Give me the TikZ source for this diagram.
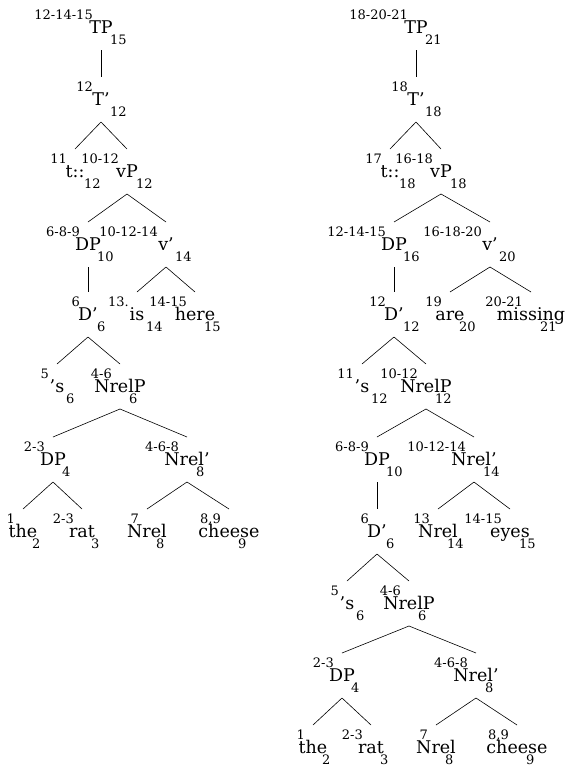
\documentclass[tikz,border=0pt]{standalone}
\usepackage{fontspec}
\setmainfont{DejaVu Serif}
\begin{document}
\begin{tikzpicture}[x=1pt,y=1pt,
  wd/.style={inner sep=0pt,anchor=base,font=\fontsize{17.5}{20}\selectfont},
  sm/.style={inner sep=0pt,font=\fontsize{13}{15}\selectfont},
  edge/.style={line width=0.6pt}]
\useasboundingbox (0,0) rectangle (568,-769);
\newcommand\tnode[6]{%
  \node[wd] (#1) at (#2,-#3) {#5};
  \node[sm,anchor=base east] (#1-sup) at (#2-8,14-#3) {#4};
  \node[sm,anchor=base west] (#1-sub) at (#2+9,-#3-11) {#6};
  \coordinate (#1-t) at (#2,28-#3);
  \coordinate (#1-b) at (#2,-#3-17);}
\newcommand\tedge[2]{\draw[edge] (#1-b) -- (#2-t);}
% left tree
\tnode{aTP}{101}{33}{12-14-15}{TP}{15}
\tnode{aTb}{101}{105}{12}{T'}{12}
\tnode{at}{75}{177}{11}{t::}{12}
\tnode{avP}{127}{177}{10-12}{vP}{12}
\tnode{aDP}{88}{250}{6-8-9}{DP}{10}
\tnode{avb}{166}{250}{10-12-14}{v'}{14}
\tnode{aDb}{88}{320}{6}{D'}{6}
\tnode{ais}{137}{320}{13.}{is}{14}
\tnode{ahere}{195}{320}{14-15}{here}{15}
\tnode{as}{57}{392}{5}{'s}{6}
\tnode{aNP}{120}{392}{4-6}{NrelP}{6}
\tnode{aDPb}{53}{465}{2-3}{DP}{4}
\tnode{aNb}{187}{465}{4-6-8}{Nrel'}{8}
\tnode{athe}{23}{537}{1}{the}{2}
\tnode{arat}{82}{537}{2-3}{rat}{3}
\tnode{aNrel}{147}{537}{7}{Nrel}{8}
\tnode{ache}{229}{537}{8,9}{cheese}{9}
\tedge{aTP}{aTb}
\tedge{aTb}{at}\tedge{aTb}{avP}
\tedge{avP}{aDP}\tedge{avP}{avb}
\tedge{aDP}{aDb}
\tedge{avb}{ais}\tedge{avb}{ahere}
\tedge{aDb}{as}\tedge{aDb}{aNP}
\tedge{aNP}{aDPb}\tedge{aNP}{aNb}
\tedge{aDPb}{athe}\tedge{aDPb}{arat}
\tedge{aNb}{aNrel}\tedge{aNb}{ache}
% right tree
\tnode{bTP}{416}{33}{18-20-21}{TP}{21}
\tnode{bTb}{416}{105}{18}{T'}{18}
\tnode{bt}{390}{177}{17}{t::}{18}
\tnode{bvP}{441}{177}{16-18}{vP}{18}
\tnode{bDP}{394}{250}{12-14-15}{DP}{16}
\tnode{bvb}{490}{250}{16-18-20}{v'}{20}
\tnode{bDb}{394}{320}{12}{D'}{12}
\tnode{bare}{450}{320}{19}{are}{20}
\tnode{bmis}{531}{320}{20-21}{missing}{21}
\tnode{bs}{362}{392}{11}{'s}{12}
\tnode{bNP}{426}{392}{10-12}{NrelP}{12}
\tnode{bDPb}{377}{465}{6-8-9}{DP}{10}
\tnode{bNb}{474}{465}{10-12-14}{Nrel'}{14}
\tnode{bDc}{377}{537}{6}{D'}{6}
\tnode{bNrel}{438}{537}{13}{Nrel}{14}
\tnode{beyes}{510}{537}{14-15}{eyes}{15}
\tnode{bsb}{347}{609}{5}{'s}{6}
\tnode{bNPb}{409}{609}{4-6}{NrelP}{6}
\tnode{bDPc}{342}{681}{2-3}{DP}{4}
\tnode{bNc}{476}{681}{4-6-8}{Nrel'}{8}
\tnode{bthe}{313}{753}{1}{the}{2}
\tnode{brat}{371}{753}{2-3}{rat}{3}
\tnode{bNrelb}{436}{753}{7}{Nrel}{8}
\tnode{bche}{517}{753}{8,9}{cheese}{9}
\tedge{bTP}{bTb}
\tedge{bTb}{bt}\tedge{bTb}{bvP}
\tedge{bvP}{bDP}\tedge{bvP}{bvb}
\tedge{bDP}{bDb}
\tedge{bvb}{bare}\tedge{bvb}{bmis}
\tedge{bDb}{bs}\tedge{bDb}{bNP}
\tedge{bNP}{bDPb}\tedge{bNP}{bNb}
\tedge{bDPb}{bDc}
\tedge{bNb}{bNrel}\tedge{bNb}{beyes}
\tedge{bDc}{bsb}\tedge{bDc}{bNPb}
\tedge{bNPb}{bDPc}\tedge{bNPb}{bNc}
\tedge{bDPc}{bthe}\tedge{bDPc}{brat}
\tedge{bNc}{bNrelb}\tedge{bNc}{bche}
\end{tikzpicture}
\end{document}
